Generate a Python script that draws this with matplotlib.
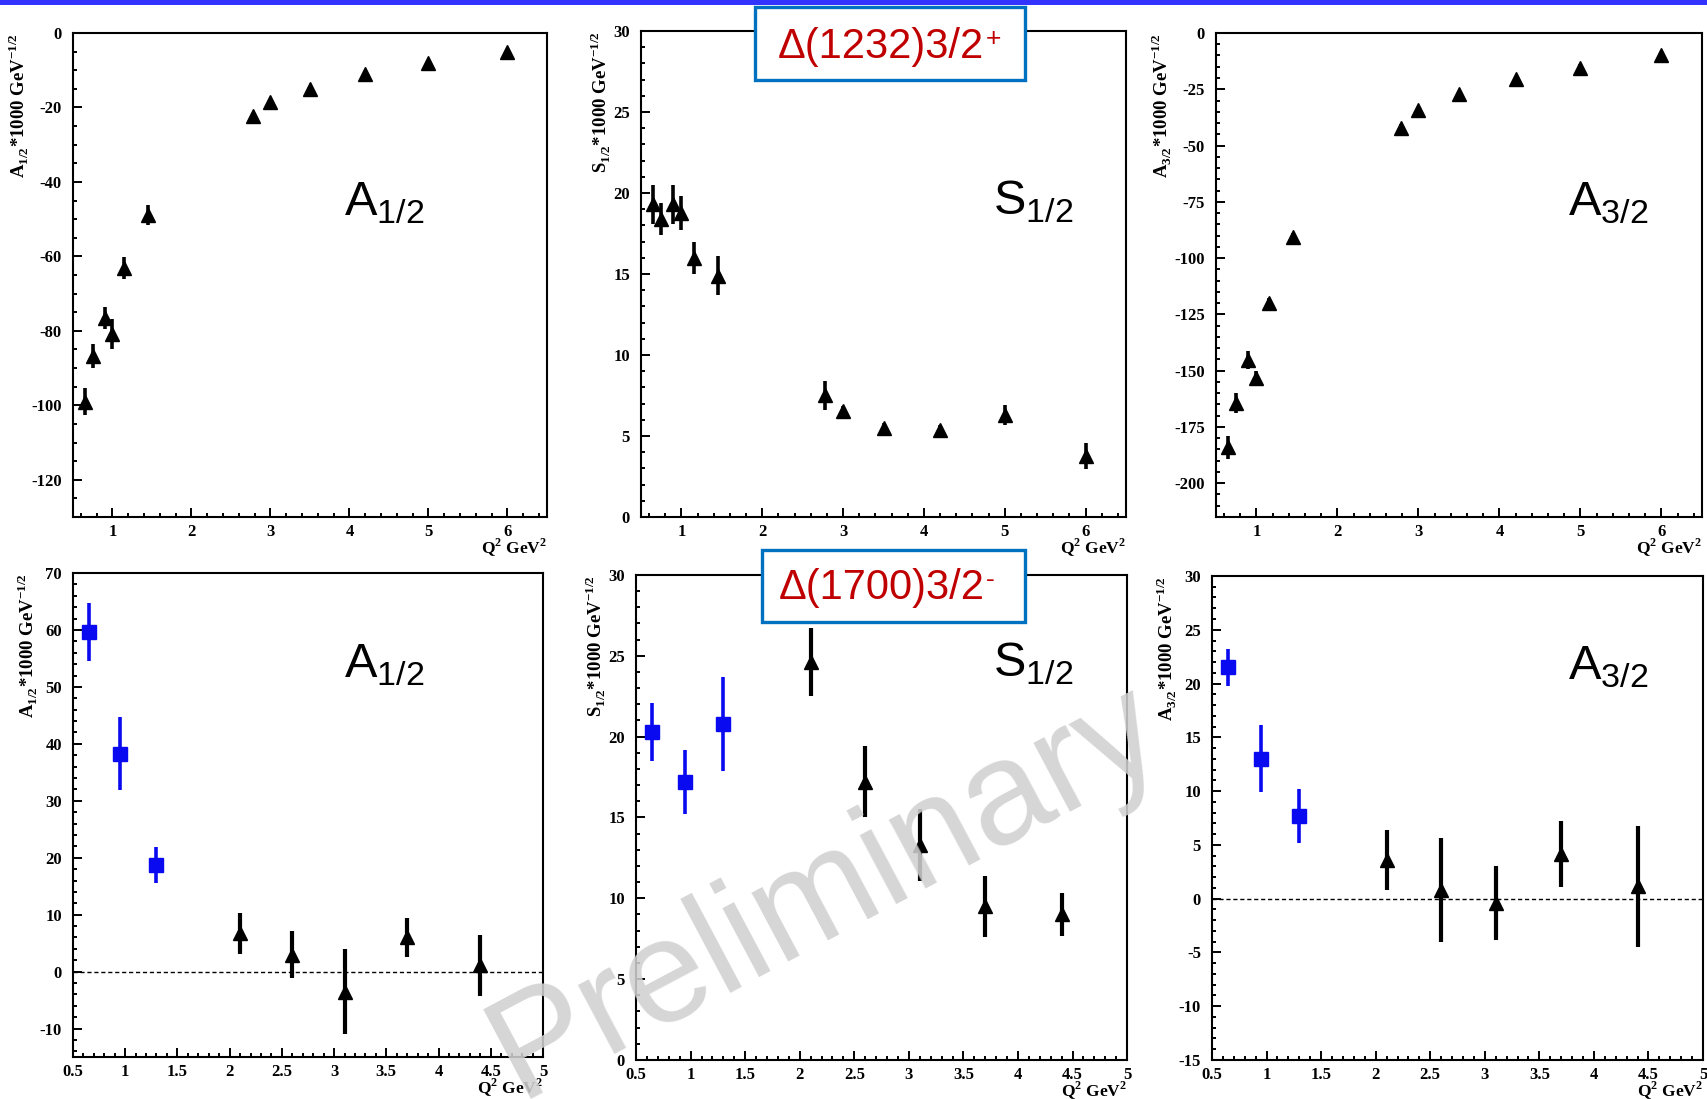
import matplotlib
matplotlib.use("Agg")
import matplotlib.pyplot as plt
from matplotlib.patches import Rectangle
from matplotlib.text import Annotation
from matplotlib.ticker import MultipleLocator, FuncFormatter

plt.rcParams['font.family'] = ['Liberation Serif', 'DejaVu Serif']
plt.rcParams['axes.unicode_minus'] = False

# Delta(1232) 3/2+ : Q^2 and amplitudes (units 10^-3 GeV^-1/2)
q2_1232 = [0.65, 0.75, 0.9, 1.0, 1.15, 1.45, 2.78, 3.0, 3.5, 4.2, 5.0, 6.0]
a12_1232 = [-99.0, -86.8, -76.5, -80.9, -63.2, -48.8, -22.3, -18.5, -15.0, -11.0, -8.1, -5.1]
a12_1232_err = [3.6, 3.2, 3.0, 4.0, 3.0, 2.7, 0.8, 0.8, 0.8, 0.8, 0.8, 0.8]
s12_1232 = [19.3, 18.4, 19.3, 18.75, 16.0, 14.9, 7.5, 6.55, 5.5, 5.35, 6.3, 3.75]
s12_1232_err = [1.2, 1.0, 1.2, 1.05, 1.0, 1.2, 0.9, 0.3, 0.3, 0.3, 0.6, 0.8]
a32_1232 = [-184.1, -164.3, -145.2, -153.2, -119.8, -90.8, -42.1, -34.4, -27.3, -20.6, -15.4, -9.9]
a32_1232_err = [5.0, 4.5, 4.0, 3.0, 2.0, 2.0, 1.5, 1.5, 1.5, 1.5, 1.5, 1.5]

# Delta(1700) 3/2- : blue squares (low Q^2) and black triangles (high Q^2)
q2_1700_blue = [0.65, 0.95, 1.3]
q2_1700_black = [2.1, 2.6, 3.1, 3.7, 4.4]
a12_1700_blue = [59.7, 38.3, 18.7]
a12_1700_blue_err = [5.1, 6.4, 3.1]
a12_1700_black = [6.7, 3.0, -3.5, 6.0, 1.1]
a12_1700_black_err = [3.6, 4.1, 7.5, 3.4, 5.3]
s12_1700_blue = [20.3, 17.2, 20.8]
s12_1700_blue_err = [1.8, 2.0, 2.9]
s12_1700_black = [24.6, 17.2, 13.3, 9.5, 9.0]
s12_1700_black_err = [2.1, 2.2, 2.2, 1.9, 1.3]
a32_1700_blue = [21.5, 13.0, 7.7]
a32_1700_blue_err = [1.7, 3.1, 2.5]
a32_1700_black = [3.6, 0.8, -0.4, 4.15, 1.15]
a32_1700_black_err = [2.8, 4.8, 3.4, 3.05, 5.65]

BLUE = '#0a0af0'
SANS = 'Liberation Sans'
fmt_g = FuncFormatter(lambda v, p: f'{v:g}')

fig = plt.figure(figsize=(17.08, 10.99), dpi=100)

# blue strip along the top edge
fig.patches.append(Rectangle((0, 1 - 5 / 1099), 1, 5 / 1099, transform=fig.transFigure,
                             facecolor='#3333ff', edgecolor='none', zorder=0))


def style_axes(ax, xlim, ylim, xmaj, xmin, ymaj, ymin, ylab, big, big_xy):
    ax.set_xlim(*xlim)
    ax.set_ylim(*ylim)
    ax.xaxis.set_major_locator(MultipleLocator(xmaj))
    ax.xaxis.set_minor_locator(MultipleLocator(xmin))
    ax.yaxis.set_major_locator(MultipleLocator(ymaj))
    ax.yaxis.set_minor_locator(MultipleLocator(ymin))
    ax.xaxis.set_major_formatter(fmt_g)
    ax.yaxis.set_major_formatter(fmt_g)
    for sp in ax.spines.values():
        sp.set_linewidth(1.5)
    ax.tick_params(which='both', direction='in', top=False, right=False, width=1.4)
    ax.tick_params(which='major', length=6.5)
    ax.tick_params(which='minor', length=3.2)
    ax.tick_params(axis='x', pad=5, labelsize=12)
    ax.tick_params(axis='y', pad=8, labelsize=12)
    for lab in ax.get_xticklabels() + ax.get_yticklabels():
        lab.set_fontweight('bold')
    ax.set_ylabel(ylab, loc='top', fontsize=13.5, fontweight='bold', labelpad=0)
    ax.set_xlabel(r'Q$^{\mathregular{2}}$ GeV$^{\mathregular{2}}$', loc='right',
                  fontsize=12.5, fontweight='bold', labelpad=-2)
    ax.text(big_xy[0], big_xy[1], big, transform=ax.transAxes, family=SANS,
            fontsize=35, ha='left', va='baseline')


def black_pts(ax, x, y, e, ms=10.5, lw=2.6):
    ax.errorbar(x, y, yerr=e, fmt='^', color='black', ms=ms, elinewidth=lw,
                capsize=0, mec='black', zorder=3)


def blue_pts(ax, x, y, e):
    ax.errorbar(x, y, yerr=e, fmt='s', color=BLUE, ms=10.5, elinewidth=2.6,
                capsize=0, mec=BLUE, zorder=3)


lab_a12 = r'A$_{\mathregular{1/2}}$*1000 GeV$^{\mathregular{-1/2}}$'
lab_s12 = r'S$_{\mathregular{1/2}}$*1000 GeV$^{\mathregular{-1/2}}$'
lab_a32 = r'A$_{\mathregular{3/2}}$*1000 GeV$^{\mathregular{-1/2}}$'
big_a12 = r'A$_{\mathregular{1/2}}$'
big_s12 = r'S$_{\mathregular{1/2}}$'
big_a32 = r'A$_{\mathregular{3/2}}$'

# top row: Delta(1232)
ax1 = fig.add_axes([0.0427, 0.5296, 0.2775, 0.4404])
black_pts(ax1, q2_1232, a12_1232, a12_1232_err)
style_axes(ax1, (0.5, 6.5), (-130, 0), 1, 0.2, 20, 5, lab_a12, big_a12, (0.572, 0.622))

ax2 = fig.add_axes([0.3753, 0.5296, 0.2840, 0.4422])
black_pts(ax2, q2_1232, s12_1232, s12_1232_err)
style_axes(ax2, (0.5, 6.5), (0, 30), 1, 0.2, 5, 1, lab_s12, big_s12, (0.726, 0.622))

ax3 = fig.add_axes([0.7119, 0.5296, 0.2845, 0.4404])
black_pts(ax3, q2_1232, a32_1232, a32_1232_err)
style_axes(ax3, (0.5, 6.5), (-215, 0), 1, 0.2, 25, 5, lab_a32, big_a32, (0.7255, 0.622))

# bottom row: Delta(1700)
ax4 = fig.add_axes([0.0427, 0.0382, 0.2752, 0.4404])
ax4.axhline(0, color='black', lw=1, ls=(0, (3, 2)), zorder=1)
blue_pts(ax4, q2_1700_blue, a12_1700_blue, a12_1700_blue_err)
black_pts(ax4, q2_1700_black, a12_1700_black, a12_1700_black_err, ms=9.5, lw=3)
style_axes(ax4, (0.5, 5), (-15, 70), 0.5, 0.1, 10, 2, lab_a12, big_a12, (0.577, 0.784))

ax5 = fig.add_axes([0.3724, 0.0355, 0.2875, 0.4413])
blue_pts(ax5, q2_1700_blue, s12_1700_blue, s12_1700_blue_err)
black_pts(ax5, q2_1700_black, s12_1700_black, s12_1700_black_err, ms=9.5, lw=3)
style_axes(ax5, (0.5, 5), (0, 30), 0.5, 0.1, 5, 1, lab_s12, big_s12, (0.727, 0.789))

ax6 = fig.add_axes([0.7096, 0.0355, 0.2875, 0.4404])
ax6.axhline(0, color='black', lw=1, ls=(0, (3, 2)), zorder=1)
blue_pts(ax6, q2_1700_blue, a32_1700_blue, a32_1700_blue_err)
black_pts(ax6, q2_1700_black, a32_1700_black, a32_1700_black_err, ms=9.5, lw=3)
style_axes(ax6, (0.5, 5), (-15, 30), 0.5, 0.1, 5, 1, lab_a32, big_a32, (0.726, 0.786))

# resonance name boxes
boxes = [((0.4420, 0.9272, 0.1581, 0.0664), 0.9568, '\u0394(1232)3/2', '+'),
         ((0.4461, 0.4340, 0.1540, 0.0655), 0.4650, '\u0394(1700)3/2', '-')]
for (x0, y0, w, h), ty, name, sup in boxes:
    fig.patches.append(Rectangle((x0, y0), w, h, transform=fig.transFigure,
                                 facecolor='white', edgecolor='#0070c0', lw=2.4, zorder=5))
    t = fig.text(0.516, ty, name, family=SANS, fontsize=30,
                 color='#c00000', ha='center', va='center', zorder=6)
    fig.add_artist(Annotation(sup, xy=(1.0, 1.0), xycoords=t, xytext=(1, 0),
                              textcoords='offset points', family=SANS, fontsize=19,
                              color='#c00000', ha='left', va='top', zorder=6))

# watermark
fig.text(0.3040, 0.0002, 'Preliminary', family=SANS, fontsize=106, color='#d0d0d0',
         alpha=0.88, rotation=28, rotation_mode='anchor', ha='left', va='baseline', zorder=10)

fig.savefig('out.png', dpi=100)
